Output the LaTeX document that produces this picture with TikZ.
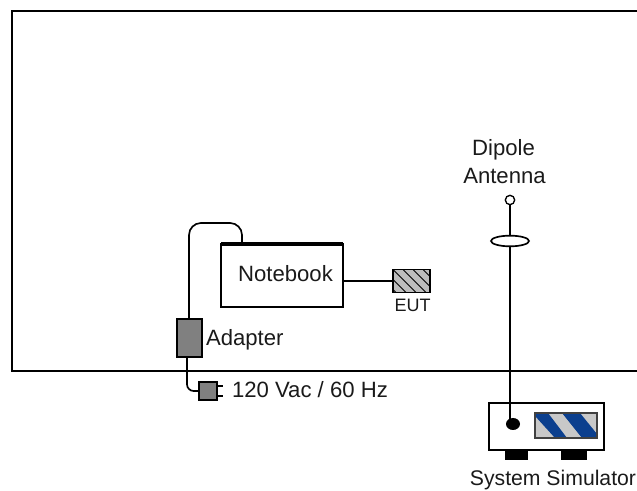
\documentclass[tikz,border=0pt]{standalone}
\usepackage{fontspec}
\setmainfont{Liberation Sans}
\usetikzlibrary{shapes.geometric,patterns}
\definecolor{inkc}{HTML}{1A1A1A}
\definecolor{midgray}{HTML}{808080}
\definecolor{hatchgray}{HTML}{BDBDBD}
\definecolor{stripegray}{HTML}{C8C8C8}
\definecolor{simblue}{HTML}{0B3F8E}
\tikzset{
  line/.style={draw=black,line width=1.25pt},
  box/.style={draw=black,line width=1.25pt,rectangle,inner sep=0pt,outer sep=0pt},
  txt/.style={inner sep=0pt,outer sep=0pt,anchor=base,text=inkc,font=\fontsize{16.6}{19}\selectfont},
  foot/.style={rectangle,fill=black,inner sep=0pt,outer sep=0pt,anchor=north west,minimum height=7.5pt}
}
\begin{document}
\begin{tikzpicture}[x=0.75pt,y=-0.75pt]
\useasboundingbox (0,0) rectangle (637,491);
% shielded room
\draw[line] (637,11) -- (12,11) -- (12,371) -- (637,371);
% notebook
\node[box,minimum width=91.5pt,minimum height=47.25pt] (nb) at (282,275.5) {};
\node[txt] (nbt) at (285.5,282) {Notebook};
\coordinate (nbtl) at (nb.north west);
\coordinate (nbtr) at (nb.north east);
\draw[draw=black,line width=2.6pt] (nbtl) -- (nbtr);
% EUT
\node[box,fill=hatchgray,minimum width=27.75pt,minimum height=17.25pt] (eut) at (411.5,281) {};
\begin{scope}
\clip (eut.north west) rectangle (eut.south east);
\foreach \s in {-20,-10,...,40}
  \draw[black,line width=0.7pt] ([xshift=\s*0.75pt]eut.north west) -- ++(23,23);
\end{scope}
\node[box,minimum width=27.75pt,minimum height=17.25pt] (eutb) at (eut) {};
\node[txt,font=\fontsize{13.5}{16}\selectfont] (eutt) at (412.5,312) {EUT};
\draw[line] (nb.east |- eut) -- (eut.west);
% adapter
\node[box,fill=midgray,minimum width=18.75pt,minimum height=28.5pt] (ad) at (189.5,338) {};
\node[txt,anchor=base west] (adt) at (206,346) {Adapter};
\coordinate (c1) at (242,244);
\coordinate (c2) at (189,319);
\draw[line,rounded corners=9pt] (c1) -- (c1 |- 0,223) -- (c2 |- 0,223) -- (c2);
% plug
\node[box,fill=midgray,minimum width=13.5pt,minimum height=13.5pt] (pl) at (208,391) {};
\coordinate (c3) at (187,357);
\draw[line,rounded corners=5pt] (c3) -- (c3 |- pl) -- (pl.west);
\coordinate (p1) at (223,386);
\coordinate (p2) at (223,396);
\draw[line,line width=1pt] (pl.east |- p1) -- (p1);
\draw[line,line width=1pt] (pl.east |- p2) -- (p2);
\node[txt,anchor=base west] (plt) at (232,398) {120 Vac / 60 Hz};
% antenna
\node[txt] (dip) at (503.5,156) {Dipole};
\node[txt] (ant) at (504.5,184) {Antenna};
\node[circle,draw=black,line width=1pt,minimum size=7pt,inner sep=0pt,outer sep=0pt] (tip) at (510,200) {};
\node[ellipse,draw=black,line width=1.25pt,minimum width=28.5pt,minimum height=8pt,inner sep=0pt,outer sep=0pt] (ring) at (510,241) {};
\draw[line] (tip.south) -- (ring.north);
% simulator
\node[box,minimum width=86.25pt,minimum height=35.25pt] (sim) at (546.5,426.5) {};
\node[ellipse,fill=black,minimum width=10.5pt,minimum height=9pt,inner sep=0pt,outer sep=0pt] (dot) at (513,424) {};
\draw[line] (ring.south) -- (ring.south |- dot);
\node[rectangle,fill=stripegray,minimum width=46.5pt,minimum height=18.75pt,inner sep=0pt,outer sep=0pt] (scr) at (566,425.5) {};
\begin{scope}
\clip (scr.north west) rectangle (scr.south east);
\fill[simblue] (535,413) -- (548,413) -- (567,438) -- (555,438) -- (535,416) -- cycle;
\fill[simblue] (562,413) -- (580,413) -- (597,434) -- (597,438) -- (582,438) -- cycle;
\end{scope}
\node[box,line width=1pt,draw=black!75,minimum width=46.5pt,minimum height=18.75pt] (scrb) at (scr) {};
\node[foot,minimum width=17.25pt] (f1) at (505,450.5) {};
\node[foot,minimum width=19.5pt] (f2) at (561,450.5) {};
\node[txt,font=\fontsize{15.9}{19}\selectfont] (simt) at (553,486) {System Simulator};
\end{tikzpicture}
\end{document}
